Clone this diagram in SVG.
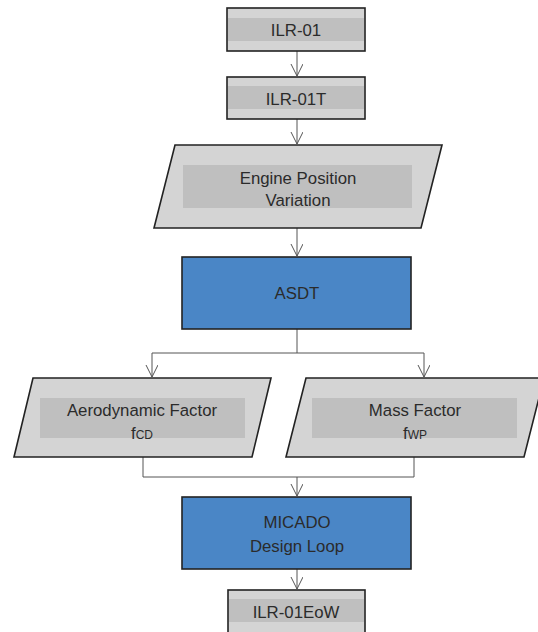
<svg xmlns="http://www.w3.org/2000/svg" width="538" height="632" viewBox="0 0 538 632">
<defs>
<marker id="arr" markerWidth="14" markerHeight="14" refX="12" refY="6" orient="auto" markerUnits="userSpaceOnUse">
<path d="M0,0 L12,6 L0,12" fill="none" stroke="#555" stroke-width="1"/>
</marker>
<style>
.box{fill:#d4d4d4;stroke:#222;stroke-width:1.6}
.band{fill:#bfbfbf}
.blue{fill:#4a86c6;stroke:#222;stroke-width:1.6}
.t{font-family:"Liberation Sans",Arial,sans-serif;font-size:16.8px;fill:#2b2b2b;text-anchor:middle}
.c{fill:none;stroke:#555;stroke-width:1}
</style>
</defs>
<rect width="538" height="632" fill="#fff"/>
<g id="connectors">
<line class="c" x1="297" y1="51" x2="297" y2="76" marker-end="url(#arr)"/>
<line class="c" x1="297" y1="119" x2="297" y2="144" marker-end="url(#arr)"/>
<line class="c" x1="297" y1="228" x2="297" y2="256" marker-end="url(#arr)"/>
<polyline class="c" points="297,329 297,353"/>
<polyline class="c" points="152,353 424,353"/>
<line class="c" x1="152" y1="353" x2="152" y2="377" marker-end="url(#arr)"/>
<line class="c" x1="424" y1="353" x2="424" y2="377" marker-end="url(#arr)"/>
<polyline class="c" points="143,457 143,477 414,477 414,457"/>
<line class="c" x1="297" y1="477" x2="297" y2="496" marker-end="url(#arr)"/>
<line class="c" x1="297" y1="569" x2="297" y2="589" marker-end="url(#arr)"/>
</g>
<g id="ilr01">
<rect class="box" x="227" y="8" width="138" height="43"/>
<rect class="band" x="228" y="18" width="136" height="23"/>
<text class="t" x="296" y="36">ILR-01</text>
</g>
<g id="ilr01t">
<rect class="box" x="227" y="77" width="138" height="42"/>
<rect class="band" x="228" y="86" width="136" height="23"/>
<text class="t" x="296" y="105">ILR-01T</text>
</g>
<g id="engine">
<polygon class="box" points="175,145 442,145 421,228 154,228"/>
<rect class="band" x="183" y="165" width="229" height="43"/>
<text class="t" x="298" y="184">Engine Position</text>
<text class="t" x="298" y="206">Variation</text>
</g>
<g id="asdt">
<rect class="blue" x="182" y="257" width="229" height="72"/>
<text class="t" x="297" y="299">ASDT</text>
</g>
<g id="aero">
<polygon class="box" points="33,378 271,378 252,457 14,457"/>
<rect class="band" x="40" y="398" width="205" height="40"/>
<text class="t" x="142" y="416">Aerodynamic Factor</text>
<text class="t" x="142" y="439">f<tspan font-size="12">CD</tspan></text>
</g>
<g id="mass">
<polygon class="box" points="306,378 544,378 524,457 286,457"/>
<rect class="band" x="312" y="398" width="205" height="40"/>
<text class="t" x="415" y="416">Mass Factor</text>
<text class="t" x="415" y="439">f<tspan font-size="12">WP</tspan></text>
</g>
<g id="micado">
<rect class="blue" x="182" y="497" width="229" height="72"/>
<text class="t" x="297" y="528">MICADO</text>
<text class="t" x="297" y="552">Design Loop</text>
</g>
<g id="ilr01eow">
<rect class="box" x="228" y="590" width="137" height="50"/>
<rect class="band" x="229" y="599" width="135" height="23"/>
<text class="t" x="296" y="618">ILR-01EoW</text>
</g>
</svg>
